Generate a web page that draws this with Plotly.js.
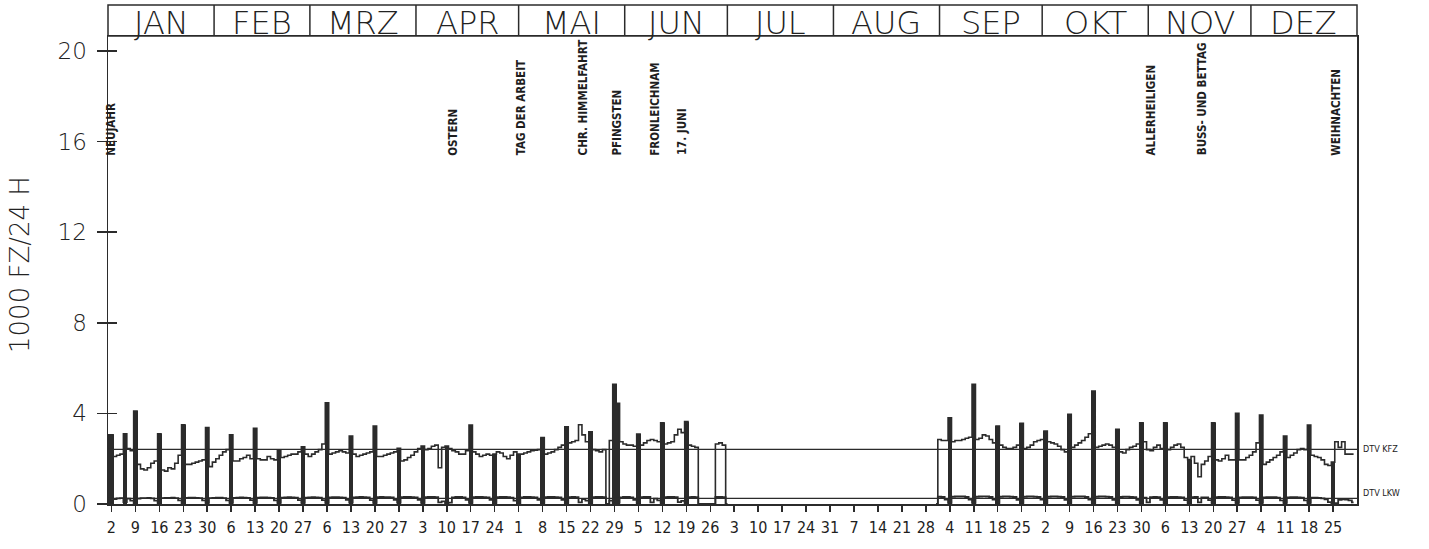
<!DOCTYPE html>
<html><head><meta charset="utf-8">
<script src="https://cdn.plot.ly/plotly-3.0.1.min.js"></script>
<style>html,body{margin:0;padding:0;background:#fff}</style>
</head><body><div id="chart" style="width:1429px;height:549px"></div>
<script>
const YEAR = 1977;
const MONTHS = ['JAN','FEB','MRZ','APR','MAI','JUN','JUL','AUG','SEP','OKT','NOV','DEZ'];

// daily traffic, 1000 vehicles / 24 h (KFZ = all vehicles)
const KFZ_JAN = [3.05,3.05,2.1,2.15,2.2,3.1,2.45,2.35,4.1,1.75,1.55,1.5,1.6,1.8,1.9,3.1,1.5,1.45,1.6,1.55,1.8,2.15,3.5,1.75,1.75,1.8,1.85,1.9,1.95,3.37,1.65];
const KFZ_FEB = [1.85,2.0,2.15,2.3,2.4,3.05,1.9,1.9,2.0,2.05,2.15,2.0,3.34,2.0,1.95,1.95,2.1,2.0,1.95,2.38,2.05,2.1,2.15,2.2,2.2,2.3,2.53,2.2];
const KFZ_MRZ = [2.1,2.2,2.3,2.4,2.65,4.47,2.2,2.25,2.3,2.35,2.3,2.25,3.0,2.2,2.1,2.15,2.2,2.25,2.3,3.44,2.1,2.1,2.15,2.2,2.25,2.3,2.46,1.9,1.95,2.05,2.15];
const KFZ_APR = [2.3,2.45,2.56,2.4,2.45,2.55,2.6,1.6,2.5,2.56,2.45,2.35,2.3,2.2,2.2,2.35,3.49,2.3,2.2,2.1,2.15,2.2,2.15,2.2,2.3,2.25,2.1,2.0,2.15,2.3];
const KFZ_MAI = [2.2,2.2,2.25,2.3,2.35,2.38,2.4,2.93,2.2,2.25,2.3,2.4,2.5,2.6,3.41,2.7,2.75,2.8,3.5,3.05,2.75,3.19,2.4,2.35,2.3,2.4,0,2.8,5.28,4.44,2.75];
const KFZ_JUN = [2.65,2.6,2.6,2.55,3.09,2.6,2.7,2.8,2.85,2.8,2.75,3.59,2.65,2.7,2.75,3.05,3.3,3.15,3.64,2.6,2.55,2.5,0,0,0,0,0,2.65,2.7,2.6];
const KFZ_JUL = [0,null,null,null,null,null,null,null,null,null,null,null,null,null,null,null,null,null,null,null,null,null,null,null,null,null,null,null,null,null,null];
const KFZ_AUG = [null,null,null,null,null,null,null,null,null,null,null,null,null,null,null,null,null,null,null,null,null,null,null,null,null,null,null,null,null,null,0];
const KFZ_SEP = [2.85,2.8,2.8,3.81,2.75,2.8,2.8,2.85,2.9,2.95,5.28,2.85,2.9,3.05,3.0,2.85,2.7,3.44,2.6,2.5,2.45,2.45,2.5,2.6,3.56,2.45,2.5,2.6,2.75,2.8];
const KFZ_OKT = [2.85,3.22,2.75,2.7,2.65,2.55,2.4,2.3,3.96,2.5,2.6,2.7,2.8,2.95,3.1,4.99,2.5,2.55,2.6,2.65,2.6,2.5,3.3,2.3,2.25,2.4,2.5,2.55,2.65,3.59,2.75];
const KFZ_NOV = [2.4,2.35,2.5,2.6,2.45,3.59,2.4,2.5,2.6,2.65,2.5,2.05,1.96,2.1,1.8,1.2,1.75,1.9,2.1,3.59,1.95,1.9,2.0,2.15,1.95,1.95,4.0,1.95,1.95,2.05];
const KFZ_DEZ = [2.15,2.3,2.7,3.93,1.75,1.85,1.95,2.05,2.15,2.3,3.0,2.05,2.15,2.25,2.4,2.45,2.4,3.49,2.15,2.1,2.05,1.95,1.75,1.7,1.85,2.75,2.5,2.75,2.2,2.2,2.2];

// daily heavy goods traffic (LKW), 1000 / 24 h
const LKW_JAN = [0.05,0.04,0.22,0.25,0.26,0.08,0.24,0.15,0.04,0.24,0.26,0.26,0.27,0.25,0.15,0.05,0.26,0.27,0.27,0.28,0.26,0.16,0.04,0.27,0.28,0.28,0.27,0.26,0.16,0.05,0.26];
const LKW_FEB = [0.27,0.28,0.28,0.26,0.16,0.05,0.27,0.28,0.29,0.28,0.27,0.17,0.05,0.28,0.29,0.29,0.28,0.27,0.16,0.05,0.28,0.29,0.30,0.29,0.28,0.17,0.05,0.28];
const LKW_MRZ = [0.29,0.30,0.29,0.28,0.17,0.05,0.29,0.30,0.30,0.29,0.28,0.18,0.06,0.29,0.30,0.31,0.30,0.29,0.17,0.05,0.30,0.31,0.30,0.30,0.29,0.18,0.06,0.30,0.31,0.31,0.30];
const LKW_APR = [0.29,0.18,0.05,0.30,0.31,0.31,0.30,0.07,0.12,0.04,0.06,0.29,0.31,0.31,0.29,0.18,0.05,0.30,0.31,0.31,0.30,0.29,0.18,0.05,0.30,0.31,0.31,0.30,0.28,0.15];
const LKW_MAI = [0.04,0.29,0.31,0.31,0.30,0.29,0.18,0.05,0.30,0.31,0.31,0.30,0.29,0.18,0.05,0.30,0.31,0.30,0.07,0.22,0.15,0.05,0.30,0.31,0.31,0.30,0,0.15,0.04,0.06,0.29];
const LKW_JUN = [0.31,0.31,0.29,0.18,0.05,0.30,0.31,0.31,0.07,0.24,0.16,0.05,0.30,0.31,0.31,0.30,0.08,0.14,0.05,0.30,0.31,0.30,0,0,0,0,0,0.31,0.31,0.30];
const LKW_JUL = [0,null,null,null,null,null,null,null,null,null,null,null,null,null,null,null,null,null,null,null,null,null,null,null,null,null,null,null,null,null,null];
const LKW_AUG = [null,null,null,null,null,null,null,null,null,null,null,null,null,null,null,null,null,null,null,null,null,null,null,null,null,null,null,null,null,null,0];
const LKW_SEP = [0.32,0.31,0.19,0.05,0.32,0.33,0.33,0.33,0.31,0.19,0.05,0.32,0.33,0.34,0.33,0.31,0.19,0.05,0.32,0.33,0.33,0.32,0.31,0.18,0.05,0.32,0.33,0.33,0.32,0.31];
const LKW_OKT = [0.19,0.05,0.32,0.33,0.33,0.32,0.31,0.18,0.05,0.32,0.33,0.33,0.33,0.31,0.19,0.05,0.32,0.33,0.33,0.32,0.31,0.18,0.05,0.31,0.32,0.32,0.31,0.30,0.18,0.05,0.28];
const LKW_NOV = [0.07,0.30,0.31,0.30,0.18,0.05,0.30,0.31,0.31,0.30,0.29,0.17,0.05,0.30,0.31,0.07,0.29,0.29,0.17,0.05,0.30,0.31,0.31,0.30,0.29,0.17,0.05,0.29,0.30,0.30];
const LKW_DEZ = [0.30,0.29,0.17,0.05,0.29,0.30,0.30,0.30,0.28,0.16,0.05,0.29,0.30,0.30,0.29,0.28,0.16,0.05,0.28,0.28,0.27,0.25,0.20,0.08,0.03,0.04,0.18,0.20,0.19,0.16,0.07];

const DTV_KFZ = 2.41;
const DTV_LKW = 0.25;

const HOLIDAY_NAMES = ['NEUJAHR','OSTERN','TAG DER ARBEIT','CHR. HIMMELFAHRT','PFINGSTEN','FRONLEICHNAM','17. JUNI','ALLERHEILIGEN','BUSS- UND BETTAG','WEIHNACHTEN'];
const HOLIDAY_DATES = ['1977-01-01','1977-04-11','1977-05-01','1977-05-19','1977-05-29','1977-06-09','1977-06-17','1977-11-01','1977-11-16','1977-12-25'];
// weekday holidays drawn as filled bars like Sundays
const BAR_HOLIDAYS = ['1977-01-01','1977-01-06','1977-05-30'];

const Y_TICKS = [0,4,8,12,16,20];
const Y_TITLE = '1000 FZ/24 H';
const LABEL_KFZ = 'DTV KFZ';
const LABEL_LKW = 'DTV LKW';

// ---------- build ----------
const KFZ = [].concat(KFZ_JAN,KFZ_FEB,KFZ_MRZ,KFZ_APR,KFZ_MAI,KFZ_JUN,KFZ_JUL,KFZ_AUG,KFZ_SEP,KFZ_OKT,KFZ_NOV,KFZ_DEZ);
const LKW = [].concat(LKW_JAN,LKW_FEB,LKW_MRZ,LKW_APR,LKW_MAI,LKW_JUN,LKW_JUL,LKW_AUG,LKW_SEP,LKW_OKT,LKW_NOV,LKW_DEZ);
const T0 = Date.UTC(YEAR,0,1);
const DAY = 86400000;
const nDays = KFZ.length;
function dayIndex(s){ const p=s.split('-').map(Number); return Math.round((Date.UTC(p[0],p[1]-1,p[2])-T0)/DAY); }
const days = KFZ.map((_,i)=>i);
const barSet = new Set(BAR_HOLIDAYS.map(dayIndex));
const barX=[], barY=[], tickVals=[], tickText=[];
for(let i=0;i<nDays;i++){
  const d=new Date(T0+i*DAY);
  const sun = d.getUTCDay()===0;
  if(sun){ tickVals.push(i); tickText.push(String(d.getUTCDate())); }
  if((sun||barSet.has(i)) && KFZ[i]!==null){ barX.push(i); barY.push(KFZ[i]); }
}
const monthStart=[]; for(let m=0;m<12;m++) monthStart.push(Math.round((Date.UTC(YEAR,m,1)-T0)/DAY));
monthStart.push(nDays);

const INK='#2b2b2b';
const YMAX=20.66;
const BAND_TOP = 1 + 31/468;
const shapes=[];
shapes.push({type:'rect',xref:'paper',yref:'paper',x0:0,x1:1,y0:1,y1:BAND_TOP,line:{color:INK,width:1.5}});
for(let m=1;m<12;m++){
  const px=monthStart[m]/nDays;
  shapes.push({type:'line',xref:'paper',yref:'paper',x0:px,x1:px,y0:1,y1:BAND_TOP,line:{color:INK,width:1.5}});
}
shapes.push({type:'line',xref:'paper',yref:'y',x0:0,x1:1,y0:DTV_KFZ,y1:DTV_KFZ,line:{color:INK,width:1.3}});
shapes.push({type:'line',xref:'paper',yref:'y',x0:0,x1:1,y0:DTV_LKW,y1:DTV_LKW,line:{color:INK,width:1.3}});

const annotations=[];
for(let m=0;m<12;m++){
  annotations.push({xref:'paper',yref:'paper',x:(monthStart[m]+monthStart[m+1])/2/nDays,y:(1+BAND_TOP)/2,yshift:-2,
    text:MONTHS[m],showarrow:false,xanchor:'center',yanchor:'middle',
    font:{family:'DejaVu Sans',weight:200,size:32,color:'#222'}});
}
HOLIDAY_NAMES.forEach((n,k)=>{
  annotations.push({xref:'x',yref:'y',x:dayIndex(HOLIDAY_DATES[k])+0.8,y:15.3,text:n,textangle:-90,
    showarrow:false,xanchor:'center',yanchor:'bottom',
    font:{family:'DejaVu Sans Condensed, DejaVu Sans',weight:700,size:11.5,color:'#1e1e1e'}});
});
annotations.push({xref:'paper',yref:'paper',x:0,y:0.5,xshift:-88,yshift:5,text:Y_TITLE,textangle:-90,showarrow:false,
  xanchor:'center',yanchor:'middle',font:{family:'DejaVu Sans',weight:200,size:26,color:'#222'}});
annotations.push({xref:'paper',yref:'y',x:1,y:DTV_KFZ,xshift:4,text:LABEL_KFZ,showarrow:false,xanchor:'left',yanchor:'middle',
  font:{family:'DejaVu Sans Condensed, DejaVu Sans',size:9,color:'#222'}});
annotations.push({xref:'paper',yref:'y',x:1,y:DTV_LKW,xshift:4,yshift:5,text:LABEL_LKW,showarrow:false,xanchor:'left',yanchor:'middle',
  font:{family:'DejaVu Sans Condensed, DejaVu Sans',size:9,color:'#222'}});

const traces=[
  {type:'bar',x:barX,y:barY,width:1.3,marker:{color:INK,line:{width:0}},hoverinfo:'skip'},
  {type:'scatter',mode:'lines',x:days,y:KFZ,line:{shape:'hvh',width:1.6,color:INK},connectgaps:false},
  {type:'scatter',mode:'lines',x:days,y:LKW,line:{shape:'hvh',width:1.8,color:INK},connectgaps:false},
  {type:'scatter',mode:'lines',x:[],y:[],yaxis:'y2',showlegend:false}
];

const layout={
  width:1429,height:549,
  margin:{l:108,r:72,t:36,b:45,pad:0},
  paper_bgcolor:'#fff',plot_bgcolor:'#fff',
  showlegend:false,barmode:'overlay',bargap:0,
  xaxis:{range:[0,nDays],tickmode:'array',tickvals:tickVals,ticktext:tickText,ticks:'outside',ticklen:6,tickwidth:1.5,tickcolor:INK,
    showline:true,linecolor:INK,linewidth:1.5,mirror:true,showgrid:false,zeroline:false,
    tickfont:{family:'DejaVu Sans Condensed, DejaVu Sans',size:16,color:'#1e1e1e'},ticklabelstandoff:2},
  yaxis:{range:[0,YMAX],tickmode:'array',tickvals:Y_TICKS,ticks:'outside',ticklen:10,tickwidth:1.5,tickcolor:INK,
    showline:true,linecolor:INK,linewidth:1.5,mirror:true,showgrid:false,zeroline:false,
    tickfont:{family:'DejaVu Sans',weight:200,size:23,color:'#222'},ticklabelstandoff:5},
  yaxis2:{overlaying:'y',side:'left',range:[0,YMAX],tickmode:'array',tickvals:Y_TICKS,ticks:'inside',ticklen:9,tickwidth:1.5,tickcolor:INK,
    showticklabels:false,showline:false,showgrid:false,zeroline:false},
  shapes:shapes,annotations:annotations
};
Plotly.newPlot('chart',traces,layout,{staticPlot:true,displayModeBar:false});
</script></body></html>
